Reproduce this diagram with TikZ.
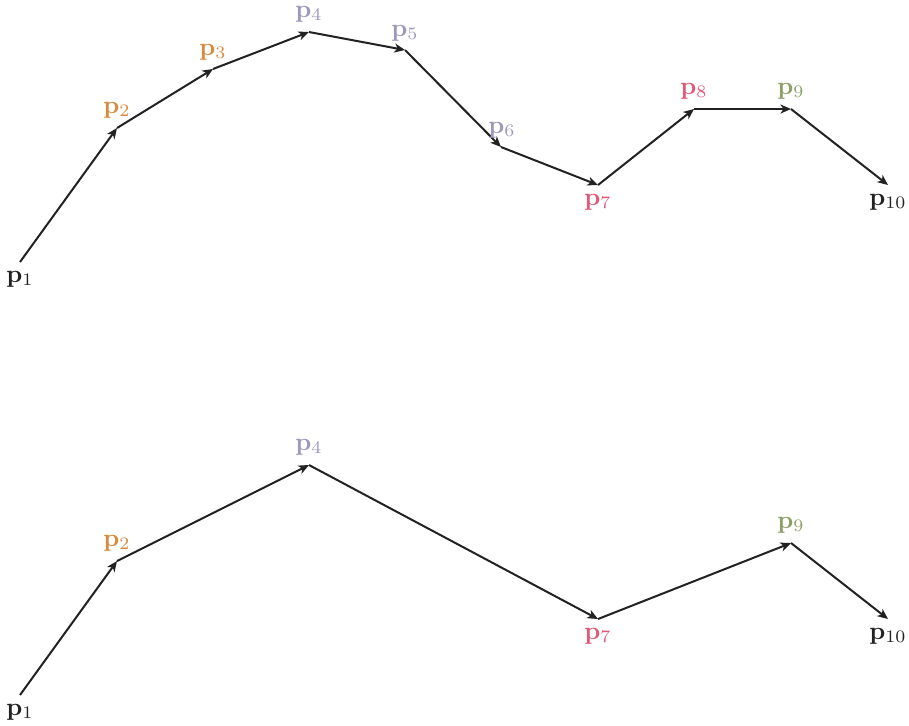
\documentclass[tikz,border=0pt]{standalone}
\usetikzlibrary{arrows.meta}
\definecolor{cdark}{HTML}{222222}
\definecolor{corange}{HTML}{DA8A3E}
\definecolor{clav}{HTML}{9D99BC}
\definecolor{cpink}{HTML}{E05A76}
\definecolor{cgreen}{HTML}{8DA065}
\tikzset{
  seg/.style={draw=cdark, line width=0.8pt, -{Stealth[length=4.2pt,width=3.6pt,inset=1.2pt]}},
  lbl/.style={inner sep=0pt}
}
\begin{document}
\begin{tikzpicture}[x=0.014cm,y=-0.014cm]
\useasboundingbox (0,0) rectangle (909,725);
% top path
\coordinate (a1) at (20,262);
\coordinate (a2) at (117,128);
\coordinate (a3) at (213,69);
\coordinate (a4) at (309,32);
\coordinate (a5) at (405,50);
\coordinate (a6) at (501,147);
\coordinate (a7) at (598,185);
\coordinate (a8) at (694,109);
\coordinate (a9) at (791,109);
\coordinate (a10) at (888,185);
\foreach \i/\j in {1/2,2/3,3/4,4/5,5/6,6/7,7/8,8/9,9/10} \draw[seg] (a\i) -- (a\j);
\node[lbl, text=cdark] (la1) at (20,279) {$\mathbf{p}_1$};
\node[lbl, text=corange] (la2) at (117,110) {$\mathbf{p}_2$};
\node[lbl, text=corange] (la3) at (213,52) {$\mathbf{p}_3$};
\node[lbl, text=clav] (la4) at (309,14) {$\mathbf{p}_4$};
\node[lbl, text=clav] (la5) at (405,33) {$\mathbf{p}_5$};
\node[lbl, text=clav] (la6) at (502,130) {$\mathbf{p}_6$};
\node[lbl, text=cpink] (la7) at (598,202) {$\mathbf{p}_7$};
\node[lbl, text=cpink] (la8) at (694,91) {$\mathbf{p}_8$};
\node[lbl, text=cgreen] (la9) at (791,91) {$\mathbf{p}_9$};
\node[lbl, text=cdark] (la10) at (888,202) {$\mathbf{p}_{10}$};
% bottom path
\coordinate (b1) at (20,695);
\coordinate (b2) at (117,561);
\coordinate (b4) at (309,465);
\coordinate (b7) at (598,619);
\coordinate (b9) at (791,543);
\coordinate (b10) at (888,619);
\foreach \i/\j in {1/2,2/4,4/7,7/9,9/10} \draw[seg] (b\i) -- (b\j);
\node[lbl, text=cdark] (lb1) at (20,712) {$\mathbf{p}_1$};
\node[lbl, text=corange] (lb2) at (117,543) {$\mathbf{p}_2$};
\node[lbl, text=clav] (lb4) at (309,447) {$\mathbf{p}_4$};
\node[lbl, text=cpink] (lb7) at (598,636) {$\mathbf{p}_7$};
\node[lbl, text=cgreen] (lb9) at (791,525) {$\mathbf{p}_9$};
\node[lbl, text=cdark] (lb10) at (888,636) {$\mathbf{p}_{10}$};
\end{tikzpicture}
\end{document}
